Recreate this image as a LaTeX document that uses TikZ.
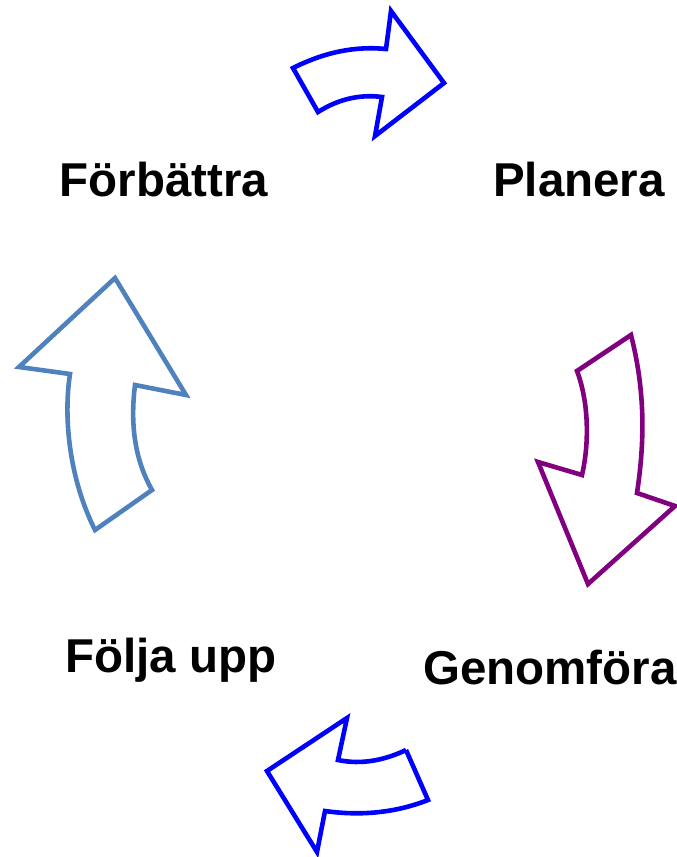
\documentclass[tikz,border=0pt]{standalone}
\usepackage{fontspec}
\setmainfont{Liberation Sans}
\definecolor{arrblue}{RGB}{0,0,255}
\definecolor{arrpurple}{RGB}{128,0,128}
\definecolor{arrsteel}{RGB}{79,129,189}
\begin{document}
\begin{tikzpicture}[x=1pt,y=-1pt,
  arr/.style={line width=4.6pt,line join=miter,fill=none},
  lbl/.style={font=\fontsize{47.5}{50}\selectfont\bfseries,anchor=base,inner sep=0pt}]
\useasboundingbox (0,0) rectangle (677,857);
% top arrow
\draw[arr,arrblue] (293,68) .. controls (325,52) and (355,46) .. (386,49)
  -- (391,11) -- (444,83) -- (375,136) -- (382,97)
  .. controls (358,94) and (337,100) .. (318,112) -- cycle;
% right arrow
\draw[arr,arrpurple] (631,335) .. controls (645,390) and (645,440) .. (637,493)
  -- (675,506) -- (588,584) -- (538,462) -- (582,475)
  .. controls (590,440) and (588,400) .. (577,371) -- cycle;
% bottom arrow
\draw[arr,arrblue] (406,750) -- (428,800)
  .. controls (395,813) and (360,816) .. (325,811)
  -- (317,852) -- (267,771) -- (347,718) -- (338,760)
  .. controls (362,765) and (385,760) .. (406,750);
% left arrow
\draw[arr,arrsteel] (115,278) -- (186,395) -- (135,385)
  .. controls (130,425) and (135,460) .. (152,490)
  -- (95,530) .. controls (70,480) and (63,420) .. (70,374)
  -- (19,367) -- cycle;
\node[lbl] (forb) at (164,196) {Förbättra};
\node[lbl] (plan) at (579,196) {Planera};
\node[lbl] (gen) at (550,684) {Genomföra};
\node[lbl] (folj) at (171,672) {Följa upp};
\end{tikzpicture}
\end{document}
